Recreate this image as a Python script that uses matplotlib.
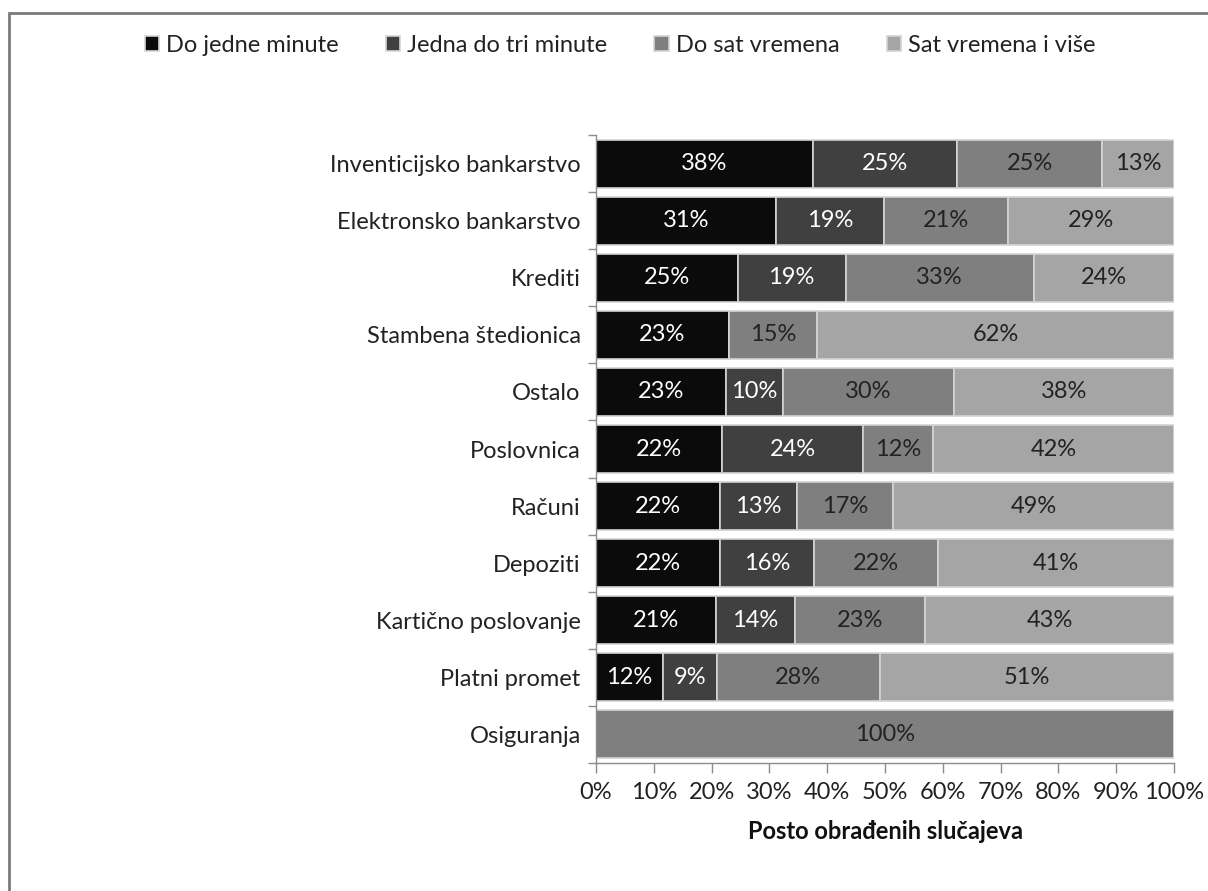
import matplotlib
matplotlib.use("Agg")
import matplotlib.pyplot as plt
import numpy as np
from matplotlib.patches import Rectangle

plt.rcParams['font.family'] = ['Lato', 'DejaVu Sans']

categories = ["Inventicijsko bankarstvo", "Elektronsko bankarstvo", "Krediti",
              "Stambena štedionica", "Ostalo", "Poslovnica", "Računi", "Depoziti",
              "Kartično poslovanje", "Platni promet", "Osiguranja"]
series_names = ["Do jedne minute", "Jedna do tri minute", "Do sat vremena", "Sat vremena i više"]
do_jedne_minute = [37.5, 31.2, 24.5, 23.0, 22.5, 21.8, 21.5, 21.5, 20.8, 11.6, 0]
jedna_do_tri = [25.0, 18.6, 18.7, 0, 9.8, 24.4, 13.3, 16.2, 13.6, 9.3, 0]
do_sat_vremena = [25.0, 21.4, 32.5, 15.2, 29.7, 12.1, 16.6, 21.5, 22.5, 28.2, 100]
sat_i_vise = [12.5, 28.8, 24.3, 61.8, 38.0, 41.7, 48.6, 40.8, 43.1, 50.9, 0]
x_ticks = [0, 10, 20, 30, 40, 50, 60, 70, 80, 90, 100]

colors = ["#0b0b0b", "#404040", "#7f7f7f", "#a5a5a5"]
text_colors = ["white", "white", "#222222", "#222222"]
FS = 17

W, H = 1208, 891
fig = plt.figure(figsize=(W / 100, H / 100), dpi=100)
ax = fig.add_axes([596 / W, 1 - 763 / H, (1174 - 596) / W, (763 - 135) / H])

# figure frame (top & left visible)
fig.add_artist(Rectangle((9 / W, -0.1), 1.2, 1 - 13 / H + 0.1, transform=fig.transFigure,
                         fill=False, edgecolor="#7a7a7a", linewidth=2.0))

n = len(categories)
y = np.arange(n)
data = [do_jedne_minute, jedna_do_tri, do_sat_vremena, sat_i_vise]
left = np.zeros(n)
for k, vals in enumerate(data):
    vals = np.array(vals, dtype=float)
    ax.barh(y, vals, left=left, height=0.84, color=colors[k], edgecolor="#d4d4d4",
            linewidth=1.2, label=series_names[k], zorder=2)
    for i in range(n):
        if vals[i] > 0:
            ax.text(left[i] + vals[i] / 2, y[i], f"{int(vals[i] + 0.5)}%",
                    ha="center", va="center", fontsize=FS, color=text_colors[k], zorder=3)
    left += vals

ax.set_xlim(0, 100)
ax.set_ylim(n - 0.5, -0.5)
ax.set_xticks(x_ticks)
ax.set_xticklabels([f"{t}%" for t in x_ticks], fontsize=FS, color="#222222")
ax.set_yticks(y)
ax.set_yticklabels(categories, fontsize=FS, color="#222222")
ax.tick_params(axis="y", which="major", length=0, pad=11)
ax.set_yticks(np.arange(-0.5, n, 1), minor=True)
ax.tick_params(axis="y", which="minor", length=6, color="#8c8c8c", width=1)
ax.tick_params(axis="x", which="major", length=7, color="#8c8c8c", width=1, pad=7)
for s in ["top", "right"]:
    ax.spines[s].set_visible(False)
for s in ["left", "bottom"]:
    ax.spines[s].set_color("#8c8c8c")
    ax.spines[s].set_linewidth(1)

ax.set_xlabel("Posto obrađenih slučajeva", fontsize=FS, fontweight="bold", color="#111111",
              labelpad=12)

fig.legend(loc="center", bbox_to_anchor=(620 / W, 1 - 45 / H), ncol=4, frameon=False,
           fontsize=FS, handlelength=0.6, handleheight=0.6, handletextpad=0.3,
           columnspacing=2.0, labelcolor="#222222")

fig.savefig("out.png", dpi=100, facecolor="white")
